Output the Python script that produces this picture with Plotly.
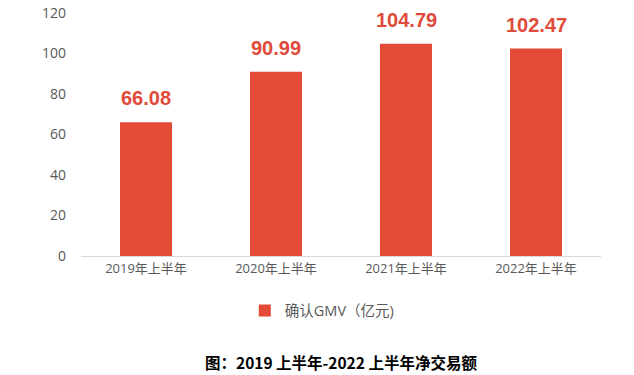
import plotly.graph_objects as go

categories = ["2019年上半年", "2020年上半年", "2021年上半年", "2022年上半年"]
gmv = [66.08, 90.99, 104.79, 102.47]
value_labels = ["66.08", "90.99", "104.79", "102.47"]
series_name = "确认GMV（亿元)"
y_ticks = [0, 20, 40, 60, 80, 100, 120]

fig = go.Figure()
fig.add_trace(go.Bar(
    x=categories, y=gmv, name=series_name,
    marker=dict(color="#e44b36", line=dict(width=0)),
    width=0.4,
))

for cat, v, lab in zip(categories, gmv, value_labels):
    fig.add_annotation(x=cat, y=v, text=f"<b>{lab}</b>", showarrow=False,
                       yanchor="bottom", yshift=11,
                       font=dict(family="Liberation Sans, Arial", size=20, color="#e04a3a"))

fig.update_layout(
    width=634, height=375,
    margin=dict(l=81, r=33, t=13, b=119, autoexpand=False),
    paper_bgcolor="white", plot_bgcolor="white",
    font=dict(family="Open Sans, Noto Sans CJK SC, sans-serif", color="#595959"),
    showlegend=True,
    legend=dict(orientation="h", x=0.315, xanchor="left", y=-0.225, yanchor="middle",
                font=dict(size=14.5, color="#595959", family="Open Sans, Noto Sans CJK SC"),
                itemwidth=30),
    bargap=0.6,
)
fig.update_xaxes(showline=True, linecolor="#d9d9d9", linewidth=1, ticks="",
                 tickfont=dict(size=13, color="#595959"), showgrid=False)
fig.update_yaxes(range=[0, 120], tickvals=y_ticks, showgrid=False, zeroline=False,
                 showline=False, ticks="", ticklabelstandoff=14,
                 tickfont=dict(size=14, color="#595959"))

fig.add_annotation(text="<b>图：2019 上半年-2022 上半年净交易额</b>", xref="paper", yref="paper",
                   x=0.5, y=-0.436, xanchor="center", yanchor="middle", showarrow=False,
                   font=dict(size=15.5, color="#000000", family="Noto Sans CJK SC"))

fig.write_html("out.html", config={"displayModeBar": False},
               post_script="document.body.style.margin='0';")
